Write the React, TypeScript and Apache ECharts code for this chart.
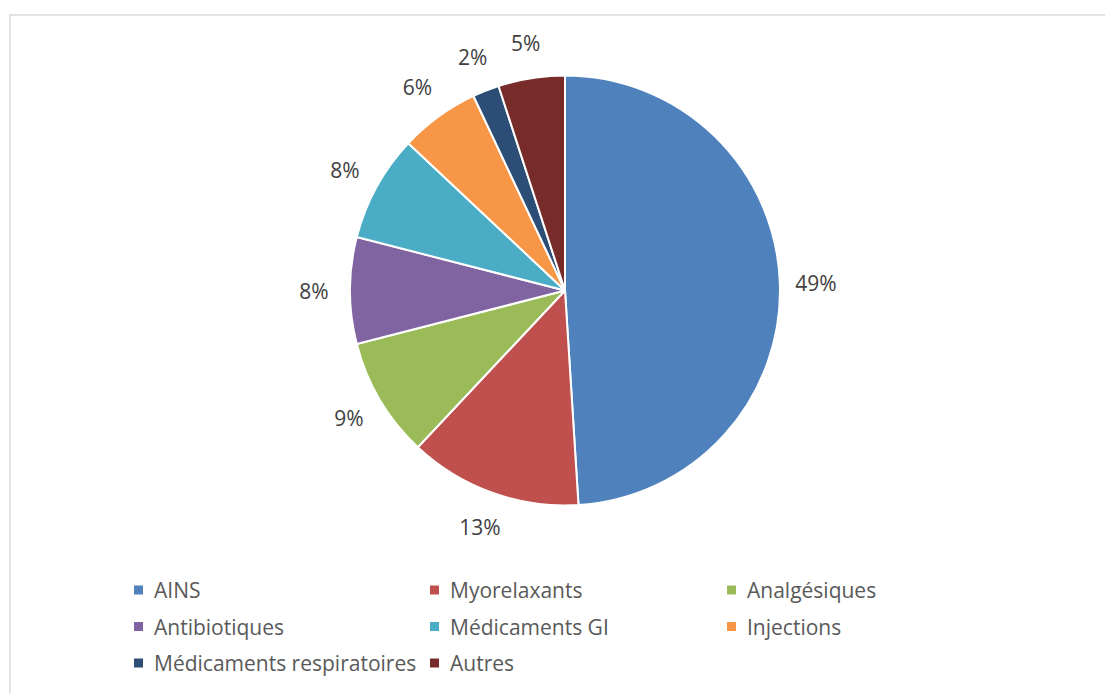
import React, { useEffect, useRef } from "react";
import * as echarts from "echarts";

const categories = [
  "AINS",
  "Myorelaxants",
  "Analgésiques",
  "Antibiotiques",
  "Médicaments GI",
  "Injections",
  "Médicaments respiratoires",
  "Autres",
];
const values = [49, 13, 9, 8, 8, 6, 2, 5];
const colors = ["#4F81BD", "#C0504D", "#9BBB59", "#8064A2", "#4BACC6", "#F79646", "#2C4D75", "#772C2A"];
const legendCol1 = ["AINS", "Antibiotiques", "Médicaments respiratoires"];
const legendCol2 = ["Myorelaxants", "Médicaments GI", "Autres"];
const legendCol3 = ["Analgésiques", "Injections"];

const FONT = "'Open Sans', sans-serif";

export default function App() {
  const ref = useRef<HTMLDivElement>(null);
  useEffect(() => {
    if (!ref.current) return;
    const chart = echarts.init(ref.current, null, { renderer: "svg" });
    const legendBase = {
      orient: "vertical" as const,
      top: 573,
      itemWidth: 11,
      itemHeight: 11,
      icon: "rect",
      itemGap: 12.5,
      selectedMode: false,
      textStyle: {
        fontFamily: FONT,
        fontSize: 21,
        color: "#595959",
        lineHeight: 24,
        padding: [0, 0, 0, 5],
      },
    };
    const data = categories.map((name, i) => ({ name, value: values[i] }));
    chart.setOption({
      animation: false,
      backgroundColor: "#fff",
      color: colors,
      graphic: [
        {
          type: "rect",
          shape: { x: 10, y: 15, width: 1200, height: 800 },
          style: { fill: "none", stroke: "#d9d9d9", lineWidth: 1.5 },
          silent: true,
        },
      ],
      legend: [
        { ...legendBase, left: 127, data: legendCol1 },
        { ...legendBase, left: 423, data: legendCol2 },
        { ...legendBase, left: 720, data: legendCol3 },
      ],
      series: [
        {
          type: "pie",
          center: [565, 290.5],
          radius: [0, 215],
          startAngle: 90,
          clockwise: true,
          itemStyle: { borderColor: "#fff", borderWidth: 2 },
          label: { show: false },
          labelLine: { show: false },
          data,
        },
        {
          type: "pie",
          center: [565, 290.5],
          radius: [215, 281],
          startAngle: 90,
          clockwise: true,
          silent: true,
          legendHoverLink: false,
          itemStyle: { color: "rgba(0,0,0,0)", borderWidth: 0 },
          label: {
            show: true,
            position: "inside",
            formatter: "{c}%",
            fontFamily: FONT,
            fontSize: 21,
            color: "#404040",
          },
          labelLine: { show: false },
          data,
        },
      ],
    });
    return () => chart.dispose();
  }, []);
  return (
    <div
      ref={ref}
      style={{ position: "fixed", left: 0, top: 0, width: 1105, height: 693 }}
    />
  );
}
